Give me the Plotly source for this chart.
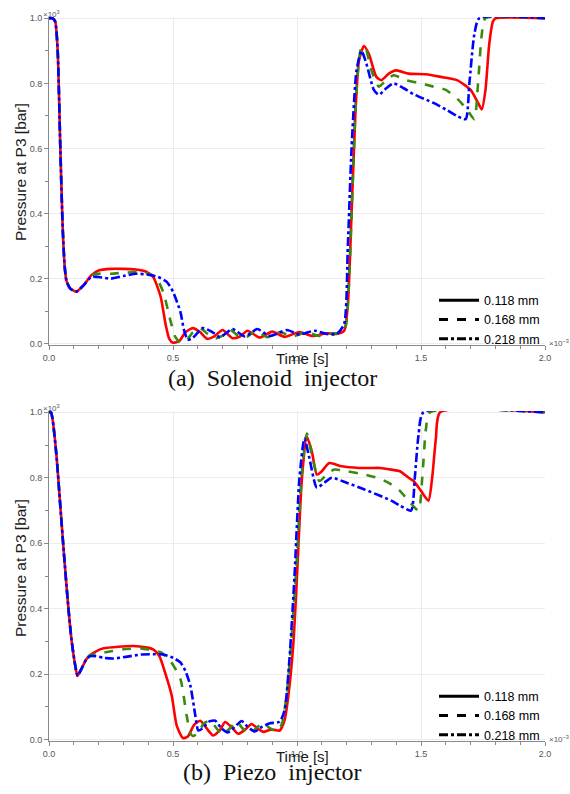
import plotly.graph_objects as go

# ---------------- data (time in 1e-3 s, pressure in 1e3 bar) ----------------
labels = ["0.118 mm", "0.168 mm", "0.218 mm"]
colors = ["#ff0000", "#3a8a10", "#0000ff"]
dashes = ["solid", "dash", "dashdot"]

# Panel (a) Solenoid injector
ta_118 = [0.0, 0.015, 0.025, 0.035, 0.045, 0.055, 0.063, 0.07, 0.085, 0.11, 0.14, 0.17, 0.2, 0.25, 0.3, 0.35, 0.39, 0.42, 0.45, 0.47, 0.485, 0.5,
          0.525, 0.55, 0.58, 0.61, 0.637, 0.665, 0.70, 0.74, 0.77, 0.80, 0.85, 0.90, 0.95, 1.01, 1.06, 1.12, 1.16, 1.19, 1.205, 1.22, 1.235, 1.25,
          1.27, 1.29, 1.32, 1.34, 1.37, 1.40, 1.45, 1.52, 1.58, 1.645, 1.70, 1.73, 1.745, 1.76, 1.775, 1.79, 1.80, 2.0]
pa_118 = [1.0, 1.0, 0.99, 0.9, 0.62, 0.36, 0.24, 0.195, 0.17, 0.16, 0.18, 0.21, 0.225, 0.23, 0.23, 0.228, 0.222, 0.205, 0.145, 0.06, 0.015, 0.003,
          0.008, 0.035, 0.048, 0.035, 0.015, 0.022, 0.042, 0.017, 0.022, 0.04, 0.019, 0.037, 0.021, 0.036, 0.024, 0.032, 0.03, 0.04, 0.12, 0.4, 0.7, 0.87,
          0.915, 0.89, 0.82, 0.81, 0.83, 0.84, 0.83, 0.828, 0.82, 0.81, 0.78, 0.74, 0.72, 0.78, 0.92, 0.99, 1.0, 1.0]

ta_168 = [0.0, 0.015, 0.025, 0.035, 0.045, 0.055, 0.063, 0.07, 0.085, 0.11, 0.14, 0.17, 0.2, 0.25, 0.3, 0.35, 0.40, 0.43, 0.46, 0.49, 0.51, 0.53,
          0.555, 0.58, 0.61, 0.64, 0.67, 0.70, 0.73, 0.77, 0.80, 0.835, 0.88, 0.93, 0.98, 1.04, 1.09, 1.14, 1.17, 1.195, 1.21, 1.225, 1.24, 1.26,
          1.275, 1.30, 1.33, 1.36, 1.39, 1.44, 1.50, 1.55, 1.60, 1.65, 1.685, 1.715, 1.73, 1.745, 1.76, 2.0]
pa_168 = [1.0, 1.0, 0.99, 0.9, 0.62, 0.36, 0.24, 0.195, 0.17, 0.16, 0.18, 0.21, 0.215, 0.215, 0.218, 0.22, 0.215, 0.205, 0.16, 0.07, 0.02, 0.003,
          0.01, 0.035, 0.047, 0.03, 0.016, 0.025, 0.043, 0.02, 0.022, 0.04, 0.02, 0.036, 0.022, 0.035, 0.024, 0.032, 0.032, 0.05, 0.2, 0.5, 0.78, 0.91,
          0.91, 0.84, 0.79, 0.81, 0.825, 0.81, 0.80, 0.79, 0.78, 0.75, 0.72, 0.69, 0.8, 0.95, 1.0, 1.0]

ta_218 = [0.0, 0.015, 0.025, 0.035, 0.045, 0.055, 0.063, 0.07, 0.085, 0.11, 0.14, 0.17, 0.2, 0.25, 0.3, 0.35, 0.40, 0.44, 0.475, 0.50, 0.53, 0.545,
          0.56, 0.58, 0.62, 0.66, 0.69, 0.74, 0.79, 0.84, 0.89, 0.96, 1.01, 1.07, 1.12, 1.16, 1.19, 1.205, 1.22, 1.24, 1.26, 1.28, 1.31, 1.33, 1.36,
          1.39, 1.43, 1.47, 1.55, 1.60, 1.645, 1.68, 1.695, 1.715, 1.735, 2.0]
pa_218 = [1.0, 1.0, 0.99, 0.9, 0.62, 0.36, 0.24, 0.195, 0.17, 0.16, 0.18, 0.205, 0.205, 0.2, 0.208, 0.215, 0.212, 0.205, 0.19, 0.16, 0.097, 0.04,
          0.012, 0.018, 0.048, 0.035, 0.02, 0.045, 0.022, 0.045, 0.024, 0.042, 0.028, 0.04, 0.03, 0.03, 0.06, 0.3, 0.6, 0.84, 0.90, 0.86, 0.78, 0.765, 0.785,
          0.80, 0.785, 0.767, 0.74, 0.72, 0.70, 0.69, 0.8, 0.95, 1.0, 1.0]

# Panel (b) Piezo injector
tb_118 = [0.0, 0.008, 0.016, 0.031, 0.044, 0.06, 0.075, 0.09, 0.105, 0.115, 0.13, 0.15, 0.165, 0.19, 0.22, 0.28, 0.34, 0.39, 0.42, 0.445, 0.47,
          0.495, 0.515, 0.54, 0.56, 0.585, 0.61, 0.635, 0.662, 0.69, 0.71, 0.74, 0.763, 0.79, 0.817, 0.84, 0.864, 0.89, 0.91, 0.93, 0.95, 0.965,
          0.985, 1.0, 1.02, 1.04, 1.06, 1.08, 1.10, 1.13, 1.18, 1.25, 1.30, 1.335, 1.38, 1.415, 1.45, 1.47, 1.50, 1.53, 1.545, 1.56, 1.577, 2.0]
pb_118 = [1.0, 1.0, 0.97, 0.86, 0.73, 0.57, 0.43, 0.31, 0.23, 0.195, 0.215, 0.245, 0.258, 0.27, 0.279, 0.284, 0.286, 0.282, 0.276, 0.255, 0.2,
          0.134, 0.043, 0.005, 0.01, 0.045, 0.058, 0.035, 0.013, 0.03, 0.054, 0.035, 0.018, 0.03, 0.048, 0.035, 0.024, 0.03, 0.03, 0.028, 0.06, 0.134,
          0.29, 0.5, 0.8, 0.925, 0.88, 0.81, 0.82, 0.845, 0.835, 0.83, 0.83, 0.83, 0.825, 0.82, 0.80, 0.79, 0.76, 0.73, 0.8, 0.92, 1.0, 1.0]

tb_168 = [0.0, 0.008, 0.016, 0.031, 0.044, 0.06, 0.075, 0.09, 0.105, 0.115, 0.13, 0.15, 0.165, 0.19, 0.25, 0.30, 0.37, 0.42, 0.45, 0.49, 0.53,
          0.555, 0.57, 0.58, 0.60, 0.625, 0.65, 0.675, 0.70, 0.73, 0.757, 0.78, 0.81, 0.835, 0.864, 0.89, 0.92, 0.94, 0.96, 0.98, 1.0, 1.02, 1.04,
          1.06, 1.09, 1.12, 1.15, 1.2, 1.27, 1.335, 1.38, 1.415, 1.45, 1.49, 1.505, 1.52, 1.536, 2.0]
pb_168 = [1.0, 1.0, 0.97, 0.86, 0.73, 0.57, 0.43, 0.31, 0.23, 0.195, 0.215, 0.245, 0.258, 0.262, 0.27, 0.276, 0.279, 0.272, 0.267, 0.24, 0.185,
          0.074, 0.02, 0.011, 0.02, 0.05, 0.058, 0.035, 0.015, 0.035, 0.055, 0.035, 0.018, 0.035, 0.052, 0.035, 0.026, 0.05, 0.15, 0.33, 0.56, 0.82, 0.935,
          0.87, 0.79, 0.81, 0.825, 0.82, 0.81, 0.797, 0.78, 0.76, 0.73, 0.70, 0.8, 0.95, 1.0, 1.0]

tb_218 = [0.0, 0.008, 0.016, 0.031, 0.044, 0.06, 0.075, 0.09, 0.105, 0.115, 0.13, 0.15, 0.165, 0.19, 0.22, 0.26, 0.31, 0.37, 0.42, 0.46, 0.50,
          0.53, 0.55, 0.57, 0.59, 0.602, 0.62, 0.645, 0.67, 0.695, 0.72, 0.75, 0.777, 0.80, 0.83, 0.86, 0.89, 0.93, 0.95, 0.97, 0.99, 1.01, 1.03,
          1.05, 1.08, 1.11, 1.14, 1.2, 1.27, 1.335, 1.38, 1.415, 1.46, 1.475, 1.49, 1.51, 2.0]
pb_218 = [1.0, 1.0, 0.97, 0.86, 0.73, 0.57, 0.43, 0.31, 0.23, 0.195, 0.215, 0.245, 0.255, 0.255, 0.25, 0.248, 0.253, 0.26, 0.261, 0.26, 0.25,
          0.236, 0.21, 0.165, 0.074, 0.028, 0.035, 0.055, 0.058, 0.035, 0.022, 0.04, 0.057, 0.04, 0.025, 0.04, 0.05, 0.055, 0.09, 0.25, 0.5, 0.8, 0.92,
          0.86, 0.77, 0.785, 0.80, 0.785, 0.765, 0.745, 0.73, 0.715, 0.70, 0.8, 0.93, 1.0, 1.0]

x_ticks = [0.0, 0.5, 1.0, 1.5, 2.0]
y_ticks = [0.0, 0.2, 0.4, 0.6, 0.8, 1.0]

panel_a = [(ta_118, pa_118), (ta_168, pa_168), (ta_218, pa_218)]
panel_b = [(tb_118, pb_118), (tb_168, pb_168), (tb_218, pb_218)]

# ---------------- figure ----------------
fig = go.Figure()
LW = 2.6

for panel, (xa, ya, leg) in zip([panel_a, panel_b], [("x", "y", "legend"), ("x2", "y2", "legend2")]):
    for (t, p), c, d in zip(panel, colors, dashes):
        fig.add_trace(go.Scatter(x=t, y=p, mode="lines", xaxis=xa, yaxis=ya,
                                 line=dict(color=c, dash=d, width=LW, shape="spline", smoothing=0.6),
                                 showlegend=False, hoverinfo="skip"))
    for lab, d in zip(labels, dashes):
        fig.add_trace(go.Scatter(x=[None], y=[None], mode="lines", xaxis=xa, yaxis=ya,
                                 line=dict(color="black", dash=d, width=3),
                                 name=lab, showlegend=True, legend=leg))

L, R, T, B = 49, 25, 17, 53
W, H = 570, 794
PH = H - T - B
def py(px):
    return (H - B - px) / PH
def pxx(px):
    return (px - L) / (W - L - R)

dom_a = [py(345), 1.0]
dom_b = [0.0, py(411)]

axis_common = dict(showline=True, linecolor="#8a8a8a", linewidth=1, ticks="outside", ticklen=4,
                   tickcolor="#8a8a8a", tickfont=dict(family="Liberation Sans, Arial", size=9, color="#555"),
                   showgrid=True, gridcolor="#ececec", gridwidth=1, zeroline=False, tickformat=".1f")

xcfg = dict(axis_common, range=[0, 2.0], tickvals=x_ticks,
            minor=dict(dtick=0.1, ticks="outside", ticklen=3, tickcolor="#8a8a8a", showgrid=False))
ycfg = dict(axis_common, range=[-0.004, 1.004], tickvals=y_ticks,
            minor=dict(dtick=0.1, ticks="outside", ticklen=3, tickcolor="#8a8a8a", showgrid=False))

legend_common = dict(bgcolor="rgba(0,0,0,0)", xanchor="right", yanchor="bottom", x=1.0,
                     font=dict(family="Liberation Sans, Arial", size=12.5, color="#000"),
                     tracegroupgap=0, itemwidth=40)

fig.update_layout(
    width=W, height=H, margin=dict(l=L, r=R, t=T, b=B),
    paper_bgcolor="white", plot_bgcolor="white",
    xaxis=dict(xcfg, anchor="y", domain=[0, 1]),
    yaxis=dict(ycfg, anchor="x", domain=dom_a),
    xaxis2=dict(xcfg, anchor="y2", domain=[0, 1]),
    yaxis2=dict(ycfg, anchor="x2", domain=dom_b),
    legend=dict(legend_common, y=dom_a[0] - 0.012),
    legend2=dict(legend_common, y=dom_b[0] - 0.012),
)

ann = []
title_font = dict(family="Liberation Sans, Arial", size=15, color="#1a1a1a")
ytitle_font = dict(family="Liberation Sans, Arial", size=15.5, color="#1a1a1a")
cap_font = dict(family="Liberation Serif, Times New Roman", size=24, color="#111")
small = dict(family="Liberation Sans, Arial", size=8, color="#555")
nb = "\u00a0"
for (ytitle_px, xtitle_px, cap_px, cap, top_px, bot_px) in [
        (172, 359, 378, "(a)" + nb * 2 + "Solenoid" + nb * 2 + "injector", 17, 345),
        (568, 756, 772, "(b)" + nb * 2 + "Piezo" + nb * 2 + "injector", 411, 741)]:
    ann.append(dict(text="Pressure at P3 [bar]", xref="paper", yref="paper", x=pxx(20), y=py(ytitle_px),
                    textangle=-90, showarrow=False, font=ytitle_font, xanchor="center", yanchor="middle"))
    ann.append(dict(text="Time [s]", xref="paper", yref="paper", x=pxx(302), y=py(xtitle_px),
                    showarrow=False, font=title_font, xanchor="center", yanchor="middle"))
    ann.append(dict(text=cap, xref="paper", yref="paper", x=pxx(272), y=py(cap_px),
                    showarrow=False, font=cap_font, xanchor="center", yanchor="middle"))
    ann.append(dict(text="×10<sup>3</sup>", xref="paper", yref="paper", x=pxx(41), y=py(top_px - 3),
                    showarrow=False, font=small, xanchor="left", yanchor="middle"))
    ann.append(dict(text="×10<sup>−3</sup>", xref="paper", yref="paper", x=pxx(547), y=py(bot_px - 2),
                    showarrow=False, font=small, xanchor="left", yanchor="middle"))
fig.update_layout(annotations=ann)

fig.write_html("out.html")
